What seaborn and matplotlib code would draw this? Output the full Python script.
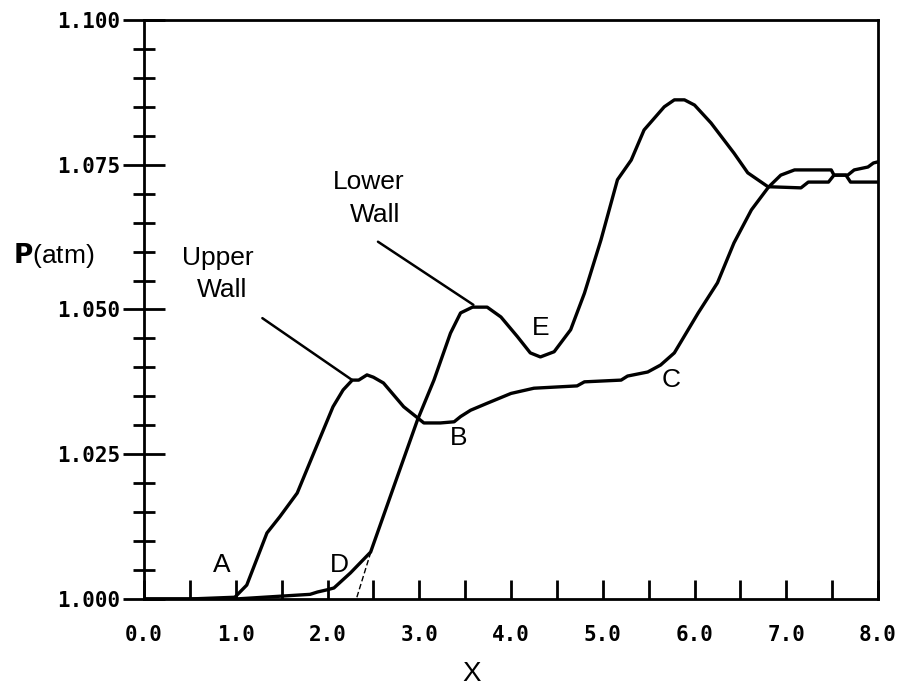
import numpy as np
import pandas as pd
import matplotlib
matplotlib.use("Agg")
import matplotlib.pyplot as plt
import seaborn as sns

# upper wall pressure (curve through A, B, C)
upper_x = [0.0, 0.5, 0.99, 1.12, 1.34, 1.48, 1.67, 1.85, 2.06, 2.17, 2.27, 2.34, 2.43,
           2.50, 2.61, 2.83, 2.98, 3.05, 3.23, 3.38, 3.45, 3.56, 3.74, 4.00, 4.25,
           4.72, 4.80, 5.20, 5.27, 5.49, 5.63, 5.78, 6.04, 6.25, 6.43, 6.62, 6.80,
           6.83, 6.94, 7.09, 7.49, 7.52, 7.67, 7.74, 7.89, 7.95, 8.0]
upper_p = [1.0, 1.0, 1.0003, 1.0024, 1.0114, 1.0142, 1.0183, 1.0252, 1.0332, 1.0361,
           1.0378, 1.0378, 1.0387, 1.0383, 1.0373, 1.0332, 1.0313, 1.0304, 1.0304,
           1.0306, 1.0315, 1.0326, 1.0338, 1.0355, 1.0364, 1.0368, 1.0375, 1.0378,
           1.0385, 1.0392, 1.0404, 1.0425, 1.0494, 1.0546, 1.0615, 1.0672, 1.0710,
           1.0715, 1.0732, 1.0741, 1.0741, 1.0732, 1.0732, 1.0741, 1.0746, 1.0753,
           1.0755]

# lower wall pressure (curve through D, E)
lower_x = [0.0, 1.0, 1.81, 1.89, 2.0, 2.07, 2.25, 2.47, 2.72, 2.98, 3.16, 3.34, 3.45,
           3.58, 3.74, 3.89, 4.07, 4.21, 4.32, 4.47, 4.65, 4.80, 4.98, 5.16, 5.31,
           5.45, 5.67, 5.78, 5.89, 6.00, 6.18, 6.43, 6.58, 6.80, 7.16, 7.24, 7.46,
           7.52, 7.65, 7.70, 8.0]
lower_p = [1.0, 1.0, 1.0008, 1.0012, 1.0016, 1.0019, 1.0045, 1.0081, 1.0193, 1.0309,
           1.0378, 1.0459, 1.0494, 1.0504, 1.0504, 1.0487, 1.0453, 1.0425, 1.0418,
           1.0427, 1.0465, 1.0528, 1.0620, 1.0724, 1.0758, 1.0810, 1.0850, 1.0862,
           1.0862, 1.0853, 1.0822, 1.0770, 1.0736, 1.0712, 1.0710, 1.0720, 1.0720,
           1.0732, 1.0732, 1.0720, 1.0720]

# dashed tangent at D
tangent_x = [2.32, 2.47]
tangent_p = [1.0003, 1.0080]

point_labels = ["A", "D", "B", "E", "C"]
point_x = [0.85, 2.13, 3.43, 4.32, 5.74]
point_p = [1.0059, 1.0059, 1.0278, 1.0468, 1.0378]

x_ticks = [0.0, 1.0, 2.0, 3.0, 4.0, 5.0, 6.0, 7.0, 8.0]
x_ticklabels = ["0.0", "1.0", "2.0", "3.0", "4.0", "5.0", "6.0", "7.0", "8.0"]
y_ticks = [1.000, 1.025, 1.050, 1.075, 1.100]
y_ticklabels = ["1.000", "1.025", "1.050", "1.075", "1.100"]

sns.set_style("ticks")
plt.rcParams["font.family"] = ["Liberation Sans", "DejaVu Sans"]
plt.rcParams["text.color"] = "black"
plt.rcParams["axes.labelcolor"] = "black"
plt.rcParams["xtick.color"] = "black"
plt.rcParams["ytick.color"] = "black"

fig = plt.figure(figsize=(9, 6.88), dpi=100)
ax = fig.add_axes([0.16, 0.1294, 0.8156, 0.8416])

upper = pd.DataFrame({"x": upper_x, "p": upper_p})
lower = pd.DataFrame({"x": lower_x, "p": lower_p})
sns.lineplot(data=upper, x="x", y="p", sort=False, estimator=None,
             color="black", lw=2.4, ax=ax)
sns.lineplot(data=lower, x="x", y="p", sort=False, estimator=None,
             color="black", lw=2.4, ax=ax)
ax.plot(tangent_x, tangent_p, color="black", lw=1.0, ls=(0, (4, 2)))

for lab, px, pp in zip(point_labels, point_x, point_p):
    ax.text(px, pp, lab, fontsize=19, ha="center", va="center")

# wall labels with leader lines
ax.text(0.807, 1.0589, "Upper", fontsize=19, ha="center", va="center")
ax.text(0.850, 1.0534, "Wall", fontsize=19, ha="center", va="center")
ax.plot([1.29, 2.27], [1.0485, 1.0378], color="black", lw=1.8)
ax.text(2.452, 1.0720, "Lower", fontsize=19, ha="center", va="center")
ax.text(2.518, 1.0663, "Wall", fontsize=19, ha="center", va="center")
ax.plot([2.55, 3.59], [1.0617, 1.0508], color="black", lw=1.8)

ax.set_xlim(0, 8)
ax.set_ylim(1.0, 1.1)
ax.set_xticks(x_ticks)
ax.set_xticklabels(x_ticklabels)
ax.set_xticks(np.arange(0.5, 8.0, 1.0), minor=True)
ax.set_yticks(y_ticks)
ax.set_yticklabels(y_ticklabels)
ax.set_yticks(np.arange(1.0, 1.1, 0.005), minor=True)

ax.tick_params(axis="x", which="both", direction="in", length=14, width=2,
               pad=19)
ax.tick_params(axis="y", which="major", direction="inout", length=30, width=2,
               pad=2)
ax.tick_params(axis="y", which="minor", direction="inout", length=16, width=2)
for lab in ax.get_xticklabels() + ax.get_yticklabels():
    lab.set_fontfamily("DejaVu Sans Mono")
    lab.set_fontweight("bold")
    lab.set_fontsize(15)

for s in ax.spines.values():
    s.set_linewidth(2)
    s.set_color("black")

ax.set_xlabel("")
ax.set_ylabel("")
fig.text(0.524, 0.020, "X", fontsize=20, ha="center", va="center")
fig.text(0.014, 0.629, r"$\mathbf{P}$(atm)", fontsize=19, ha="left", va="center")

fig.savefig("out.png", dpi=100)
